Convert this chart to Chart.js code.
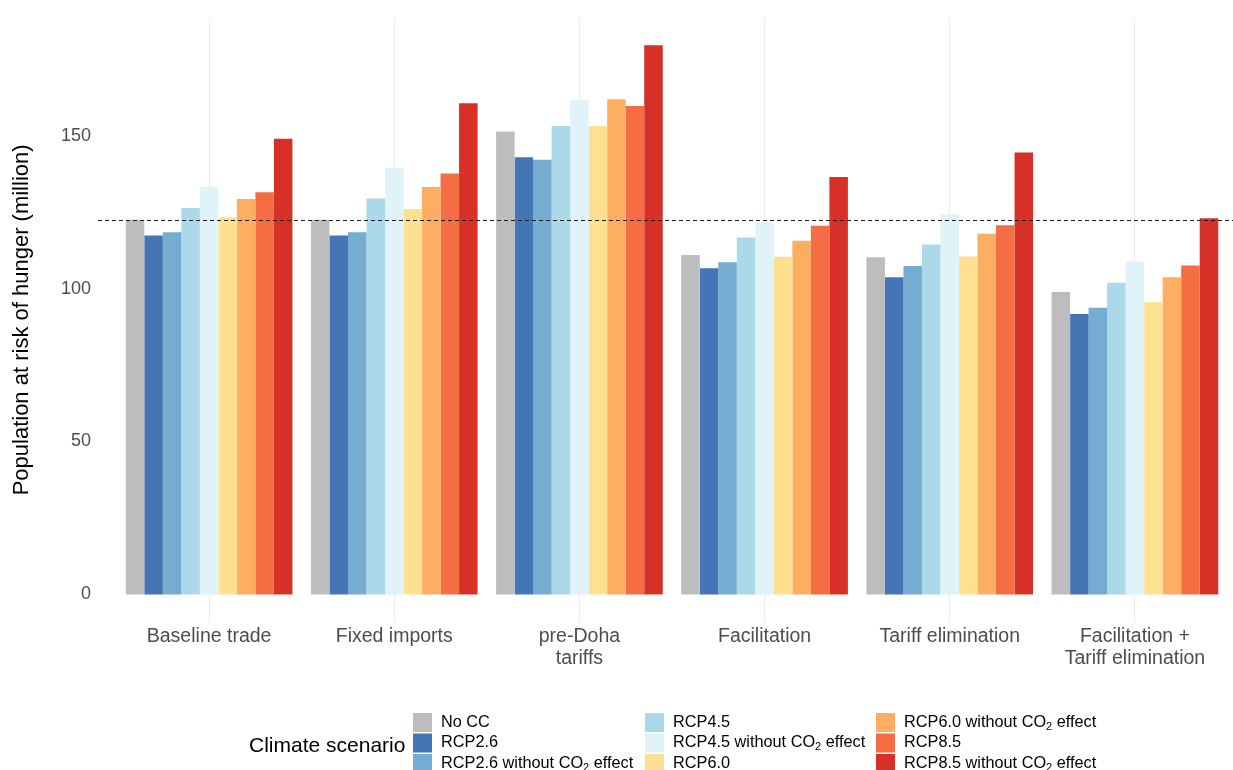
<!DOCTYPE html>
<html>
<head>
<meta charset="utf-8">
<script src="https://cdn.jsdelivr.net/npm/chart.js@4.4.1/dist/chart.umd.min.js"></script>
<style>
  html, body { margin: 0; padding: 0; background: #ffffff; overflow: hidden; width: 1233px; height: 770px; }
  #wrap { position: relative; width: 1246px; height: 770px; }
</style>
</head>
<body>
<div id="wrap"><canvas id="chart"></canvas></div>
<script>
// Trade scenarios (x categories); arrays become two-line labels
const tradeScenarios = [
  'Baseline trade',
  'Fixed imports',
  ['pre-Doha', 'tariffs'],
  'Facilitation',
  'Tariff elimination',
  ['Facilitation +', 'Tariff elimination']
];

// Climate scenarios (one bar series each)
const climateScenarios = [
  'No CC',
  'RCP2.6',
  'RCP2.6 without CO₂ effect',
  'RCP4.5',
  'RCP4.5 without CO₂ effect',
  'RCP6.0',
  'RCP6.0 without CO₂ effect',
  'RCP8.5',
  'RCP8.5 without CO₂ effect'
];

// Population at risk of hunger, million people
const noCC        = [122.5, 122.5, 151.3, 111.0, 110.2,  98.9];
const rcp26       = [117.3, 117.3, 142.9, 106.6, 103.7,  91.7];
const rcp26NoCO2  = [118.4, 118.4, 142.1, 108.6, 107.4,  93.7];
const rcp45       = [126.3, 129.4, 153.1, 116.7, 114.4, 101.9];
const rcp45NoCO2  = [133.3, 139.4, 161.7, 121.7, 124.4, 108.8];
const rcp60       = [123.3, 126.0, 153.1, 110.4, 110.5,  95.5];
const rcp60NoCO2  = [129.3, 133.2, 161.9, 115.6, 117.9, 103.7];
const rcp85       = [131.5, 137.6, 159.7, 120.5, 120.7, 107.5];
const rcp85NoCO2  = [149.0, 160.6, 179.5, 136.5, 144.5, 123.0];

// Present-day reference level (dashed line)
const currentLevel = 122.5;

// Y axis tick values
const yTickValues = [0, 50, 100, 150];

const seriesValues = [noCC, rcp26, rcp26NoCO2, rcp45, rcp45NoCO2, rcp60, rcp60NoCO2, rcp85, rcp85NoCO2];
const seriesColors = ['#BDBDBD', '#4575B4', '#74ADD1', '#ABD9E9', '#E0F3F8', '#FEE090', '#FDAE61', '#F46D43', '#D73027'];

const FONT = '"Liberation Sans", Arial, Helvetica, sans-serif';
Chart.defaults.font.family = FONT;

// Dashed horizontal reference line across the panel
const referenceLine = {
  id: 'referenceLine',
  afterDatasetsDraw(chart) {
    const { ctx, chartArea, scales } = chart;
    const y = Math.round(scales.y.getPixelForValue(currentLevel)) + 0.5;
    ctx.save();
    ctx.strokeStyle = '#1a1a1a';
    ctx.lineWidth = 1.2;
    ctx.setLineDash([4, 3]);
    ctx.beginPath();
    ctx.moveTo(chartArea.left, y);
    ctx.lineTo(chartArea.right, y);
    ctx.stroke();
    ctx.restore();
  }
};

// Three-column legend block at the bottom, filled column by column
const scenarioLegend = {
  id: 'scenarioLegend',
  afterDraw(chart) {
    const ctx = chart.ctx;
    ctx.save();
    ctx.textBaseline = 'middle';
    ctx.textAlign = 'left';
    ctx.fillStyle = '#000000';
    ctx.font = '21px ' + FONT;
    ctx.fillText('Climate scenario', 249, 746);

    const colX = [413, 645, 876];
    const rowTop = 713;
    const pitch = 20.5;
    const key = 19;
    chart.data.datasets.forEach((ds, i) => {
      const col = Math.floor(i / 3);
      const row = i % 3;
      const x = colX[col];
      const y = rowTop + row * pitch;
      ctx.fillStyle = ds.backgroundColor;
      ctx.fillRect(x, y, key, key);

      // label text, with the CO2 subscript drawn smaller and lowered
      ctx.fillStyle = '#000000';
      const parts = ds.label.split('₂');
      let tx = x + 28;
      const ty = y + key / 2;
      ctx.font = '16.3px ' + FONT;
      ctx.fillText(parts[0], tx, ty);
      tx += ctx.measureText(parts[0]).width;
      if (parts.length > 1) {
        ctx.font = '11px ' + FONT;
        ctx.fillText('2', tx, ty + 4);
        tx += ctx.measureText('2').width;
        ctx.font = '16.3px ' + FONT;
        ctx.fillText(parts[1], tx, ty);
      }
    });
    ctx.restore();
  }
};

new Chart(document.getElementById('chart'), {
  type: 'bar',
  data: {
    labels: tradeScenarios,
    datasets: climateScenarios.map((name, i) => ({
      label: name,
      data: seriesValues[i],
      backgroundColor: seriesColors[i],
      borderWidth: 0,
      categoryPercentage: 0.9,
      barPercentage: 1.0
    }))
  },
  options: {
    responsive: true,
    maintainAspectRatio: false,
    animation: false,
    events: [],
    layout: { padding: { top: 14, left: 0, right: 0, bottom: 0 } },
    plugins: {
      legend: { display: false },
      tooltip: { enabled: false },
      title: { display: false }
    },
    scales: {
      x: {
        type: 'category',
        offset: true,
        // widen the outer margins to 0.6 of a category on each side
        afterBuildTicks(scale) {
          scale._startValue -= 0.1;
          scale._valueRange += 0.2;
        },
        afterFit(scale) { scale.height = 148; },
        grid: { display: true, offset: false, color: '#EBEBEB', lineWidth: 1, drawTicks: false },
        border: { display: false },
        ticks: {
          color: '#4D4D4D',
          font: { size: 19.5, family: FONT, lineHeight: 1.1 },
          padding: 4,
          maxRotation: 0,
          minRotation: 0,
          autoSkip: false
        }
      },
      y: {
        min: -9,
        max: 188.5,
        afterBuildTicks(scale) {
          scale.ticks = yTickValues.map(v => ({ value: v }));
        },
        afterFit(scale) { scale.width = 98; },
        grid: { display: false, drawTicks: false },
        border: { display: false },
        ticks: {
          color: '#4D4D4D',
          font: { size: 18, family: FONT },
          padding: 7
        },
        title: {
          display: true,
          text: 'Population at risk of hunger (million)',
          color: '#000000',
          font: { size: 22, family: FONT },
          padding: { top: 9, bottom: 0 }
        }
      }
    }
  },
  plugins: [referenceLine, scenarioLegend]
});
</script>
</body>
</html>
